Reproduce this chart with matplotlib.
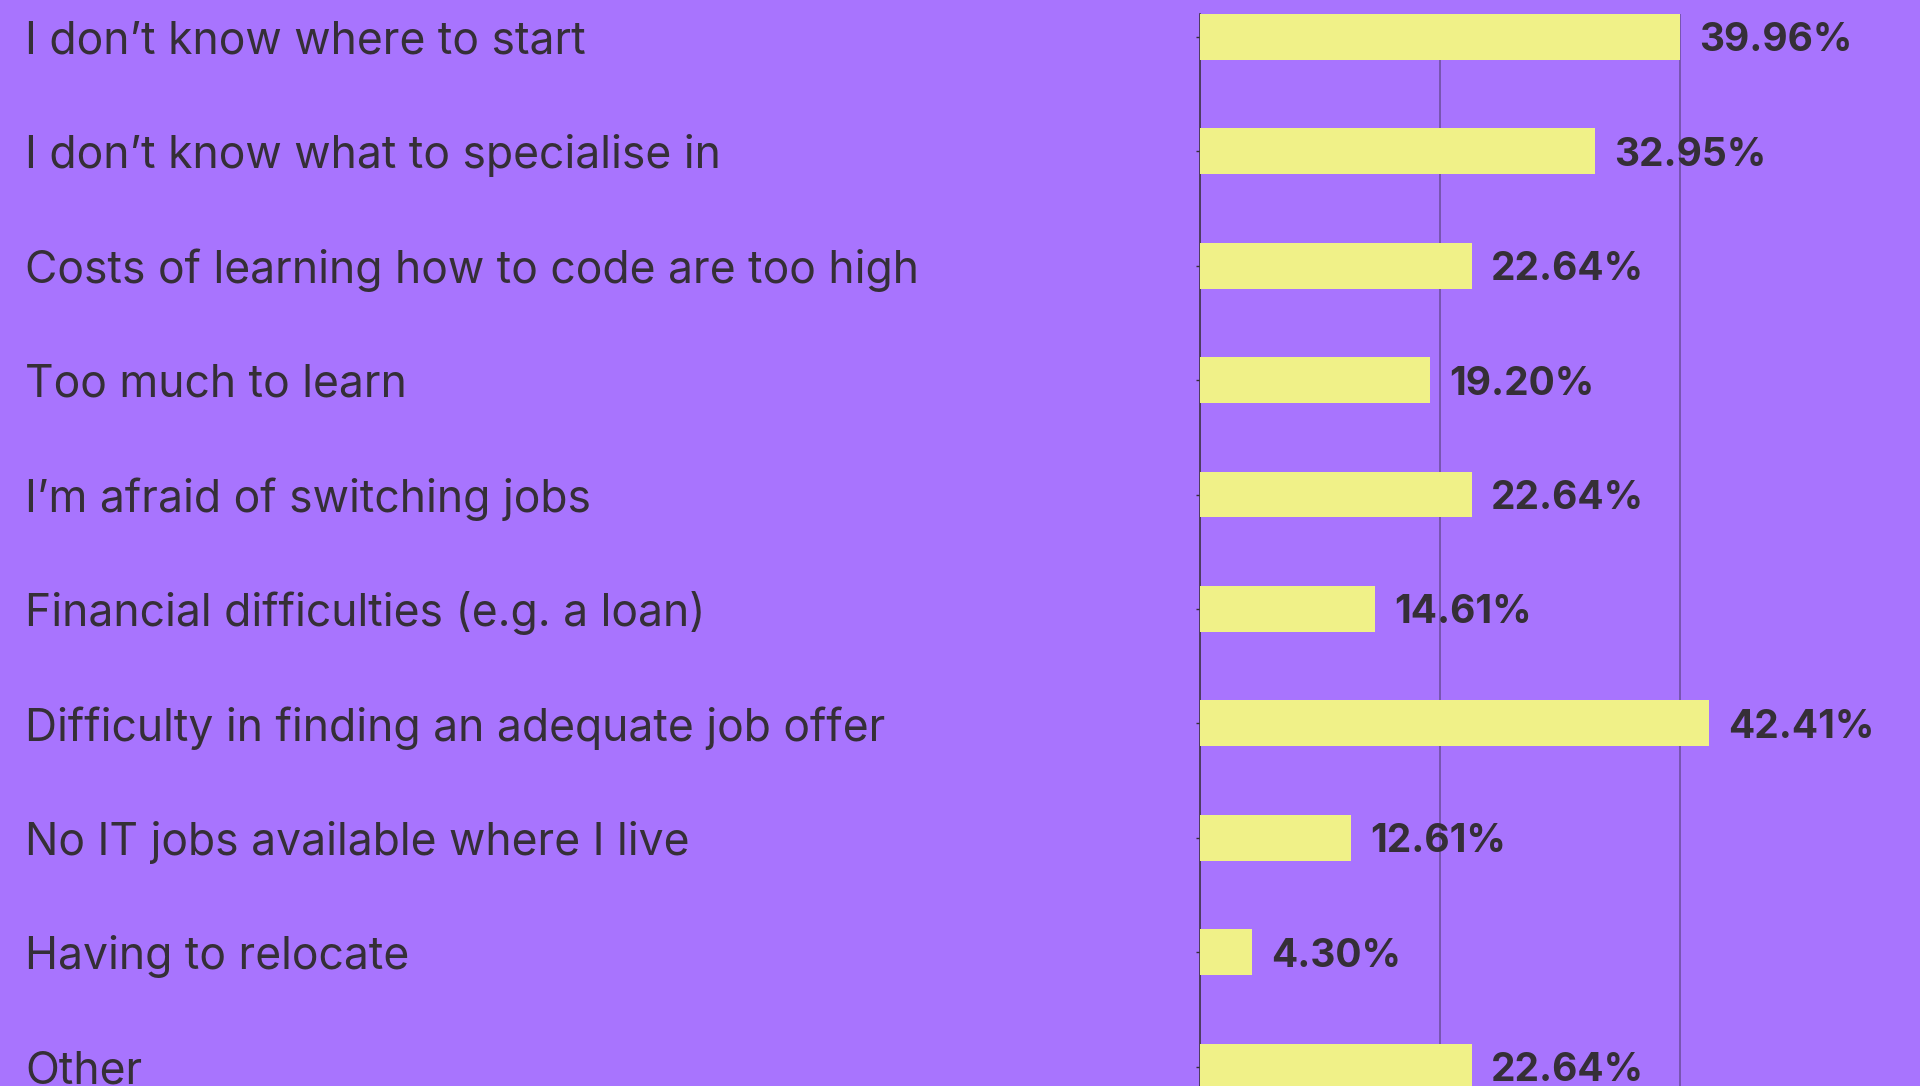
import matplotlib
matplotlib.use("Agg")
import matplotlib.pyplot as plt
from matplotlib.transforms import blended_transform_factory
import numpy as np

# survey answers, top to bottom
labels = [
    "I don\u2019t know where to start",
    "I don\u2019t know what to specialise in",
    "Costs of learning how to code are too high",
    "Too much to learn",
    "I\u2019m afraid of switching jobs",
    "Financial difficulties (e.g. a loan)",
    "Difficulty in finding an adequate job offer",
    "No IT jobs available where I live",
    "Having to relocate",
    "Other",
]
values = [39.96, 32.95, 22.64, 19.20, 22.64, 14.61, 42.41, 12.61, 4.30, 22.64]
grid_ticks = [20, 40]

BG = "#a874fe"
BAR = "#f0f188"
TXT = "#352f37"

plt.rcParams["font.family"] = ["Inter", "DejaVu Sans"]

fig = plt.figure(figsize=(19.2, 10.86), dpi=100, facecolor=BG)
ax = fig.add_axes([0.625, 0.0, 0.375, 1 - 14 / 1086])
ax.set_facecolor(BG)

y = np.arange(len(values))
ax.barh(y, values, height=0.4, color=BAR, zorder=3)

ax.set_xlim(0, 60)
ax.set_ylim(9.17, -0.2)
ax.set_xticks(grid_ticks)
ax.set_yticks(y)
ax.set_yticklabels([])
ax.tick_params(axis="y", length=3, color=TXT, width=1)
ax.tick_params(axis="x", length=0, labelbottom=False)
ax.grid(axis="x", color="#6f4fa3", linewidth=1.2, zorder=1)
for s in ["top", "right", "bottom"]:
    ax.spines[s].set_visible(False)
ax.spines["left"].set_color("#3d3145")
ax.spines["left"].set_linewidth(1.2)

for yi, v in zip(y, values):
    ax.text(v + 1.6, yi, f"{v:.2f}%", va="center_baseline", ha="left",
            fontsize=28, fontweight="bold", color=TXT, zorder=4)

tr = blended_transform_factory(fig.transFigure, ax.transData)
for yi, lab in zip(y, labels):
    ax.text(25 / 1920, yi, lab, transform=tr, va="center_baseline", ha="left",
            fontsize=32, color=TXT, clip_on=False)

fig.savefig("out.png", dpi=100, facecolor=BG)
